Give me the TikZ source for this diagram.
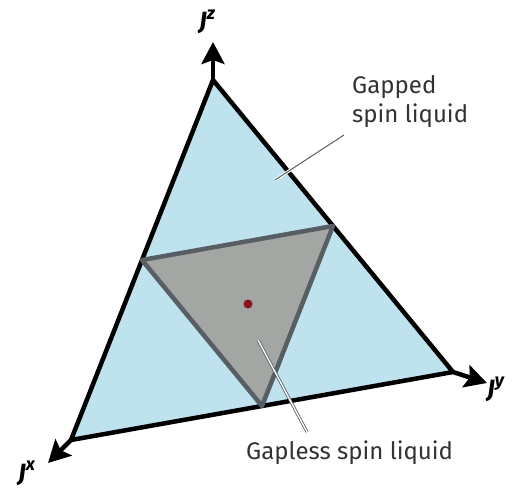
\documentclass[tikz,border=0pt]{standalone}
\usepackage{fontspec}
\setmainfont{Fira Sans}
\usetikzlibrary{arrows.meta}
\definecolor{lblue}{HTML}{BEE3EE}
\definecolor{lgrey}{HTML}{A4A6A3}
\definecolor{dgrey}{HTML}{575E64}
\definecolor{dred}{HTML}{8A1518}
\definecolor{txt}{HTML}{333333}
\newcommand{\axlab}[2]{\fontsize{25}{25}\selectfont\bfseries\itshape #1\raisebox{0.42em}{\fontsize{18}{18}\selectfont #2}}
\tikzset{
  outer/.style={line width=4.5pt, line join=round, draw=black, fill=lblue},
  inner/.style={line width=4.5pt, line join=round, draw=dgrey, fill=lgrey},
  axis/.style={line width=4.5pt, -{Stealth[length=22pt,width=23pt,inset=4pt]}},
  axlabel/.style={text=black, inner sep=0pt},
  lab/.style={font=\fontsize{24}{29}\selectfont, text=txt, inner sep=0pt, align=left},
  halo/.style={draw=white, line width=3pt},
  leader/.style={draw=dgrey, line width=1pt},
  dleader/.style={draw=dgrey, line width=0.8pt, double=white, double distance=1.4pt}
}
\begin{document}
\begin{tikzpicture}[x=1pt,y=-1pt]
\useasboundingbox (0,0) rectangle (526,489);
\coordinate (T) at (213,80);
\coordinate (L) at (71,440);
\coordinate (R) at (453,372);
\coordinate (Tz) at (213,42);
\coordinate (Tx) at (48,463);
\coordinate (Ty) at (487,383);
\draw[outer] (T) -- (L) -- (R) -- cycle;
\path (T) -- (L) coordinate[pos=0.5] (A);
\path (T) -- (R) coordinate[pos=0.5] (B);
\path (L) -- (R) coordinate[pos=0.5] (C);
\draw[inner] (A) -- (B) -- (C) -- cycle;
\draw[axis] (T) -- (Tz);
\draw[axis] (L) -- (Tx);
\draw[axis] (R) -- (Ty);
\fill[dred] (248,304) circle (4.5pt);
\node[axlabel, anchor=base west] (jz) at (199,30) {\axlab{J}{z}};
\node[axlabel, anchor=base west] (jx) at (18,481) {\axlab{J}{x}};
\node[axlabel, anchor=base west] (jy) at (487,397) {\axlab{J}{y}};
\node[lab, anchor=base west] (gapped) at (352,123) {Gapped\\spin liquid};
\node[lab, anchor=base west] (gapless) at (246,459) {Gapless spin liquid};
\coordinate (g1) at (275,180);
\coordinate (g2) at (344,135);
\draw[halo] (g1) -- (g2);
\draw[leader] (g1) -- (g2);
\coordinate (h1) at (258,340);
\coordinate (h2) at (307,432);
\draw[dleader] (h1) -- (h2);
\end{tikzpicture}
\end{document}
